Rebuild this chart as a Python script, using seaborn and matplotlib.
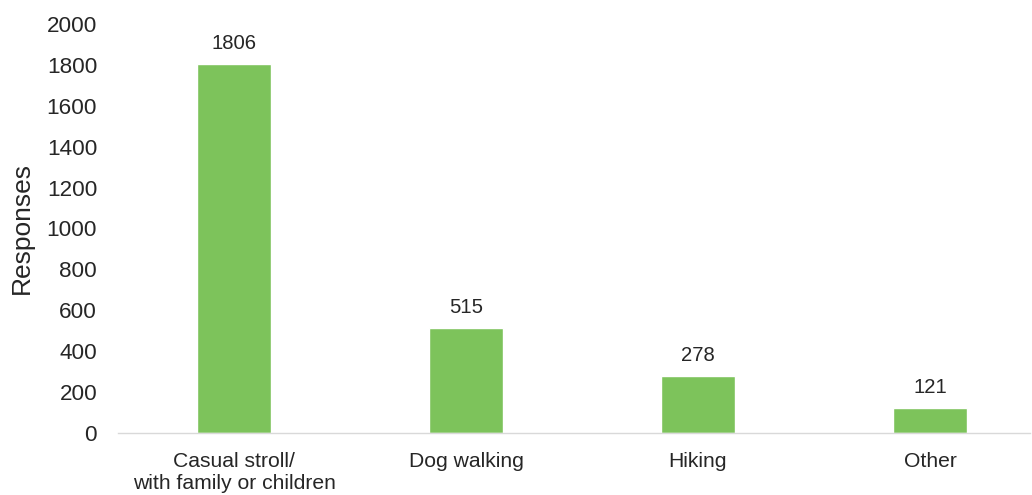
import matplotlib
matplotlib.use("Agg")
import matplotlib.pyplot as plt
import seaborn as sns
import pandas as pd

categories = ["Casual stroll/\nwith family or children", "Dog walking", "Hiking", "Other"]
responses = [1806, 515, 278, 121]
y_ticks = [0, 200, 400, 600, 800, 1000, 1200, 1400, 1600, 1800, 2000]

sns.set_style("white")
plt.rcParams["font.family"] = ["Liberation Sans", "DejaVu Sans"]

df = pd.DataFrame({"Activity": categories, "Responses": responses})

fig = plt.figure(figsize=(10.32, 4.95), dpi=100)
ax = fig.add_axes([118 / 1032, (495 - 433) / 495, 912 / 1032, 409 / 495])

sns.barplot(data=df, x="Activity", y="Responses", color="#7DC35B",
            saturation=1, width=0.315, ax=ax)

for i, v in enumerate(responses):
    ax.annotate(str(v), (i, v), xytext=(0, 8), textcoords="offset points",
                ha="center", va="bottom", fontsize=14.6, color="#262626")

ax.set_xlim(-0.5, -0.5 + 912 / 232)
ax.set_ylim(0, 2000)
ax.set_yticks(y_ticks)
ax.tick_params(axis="y", length=0, pad=15, labelsize=16.2, labelcolor="#262626")
ax.tick_params(axis="x", length=0, pad=13.5, labelsize=15.2, labelcolor="#262626")
ax.set_xlabel("")
ax.set_ylabel("Responses", fontsize=19, color="#262626")
ax.yaxis.set_label_coords(-84 / 912, 0.5)

for side in ["top", "right", "left"]:
    ax.spines[side].set_visible(False)
ax.spines["bottom"].set_color("#D9D9D9")
ax.spines["bottom"].set_linewidth(1)

fig.savefig("out.png", dpi=100)
